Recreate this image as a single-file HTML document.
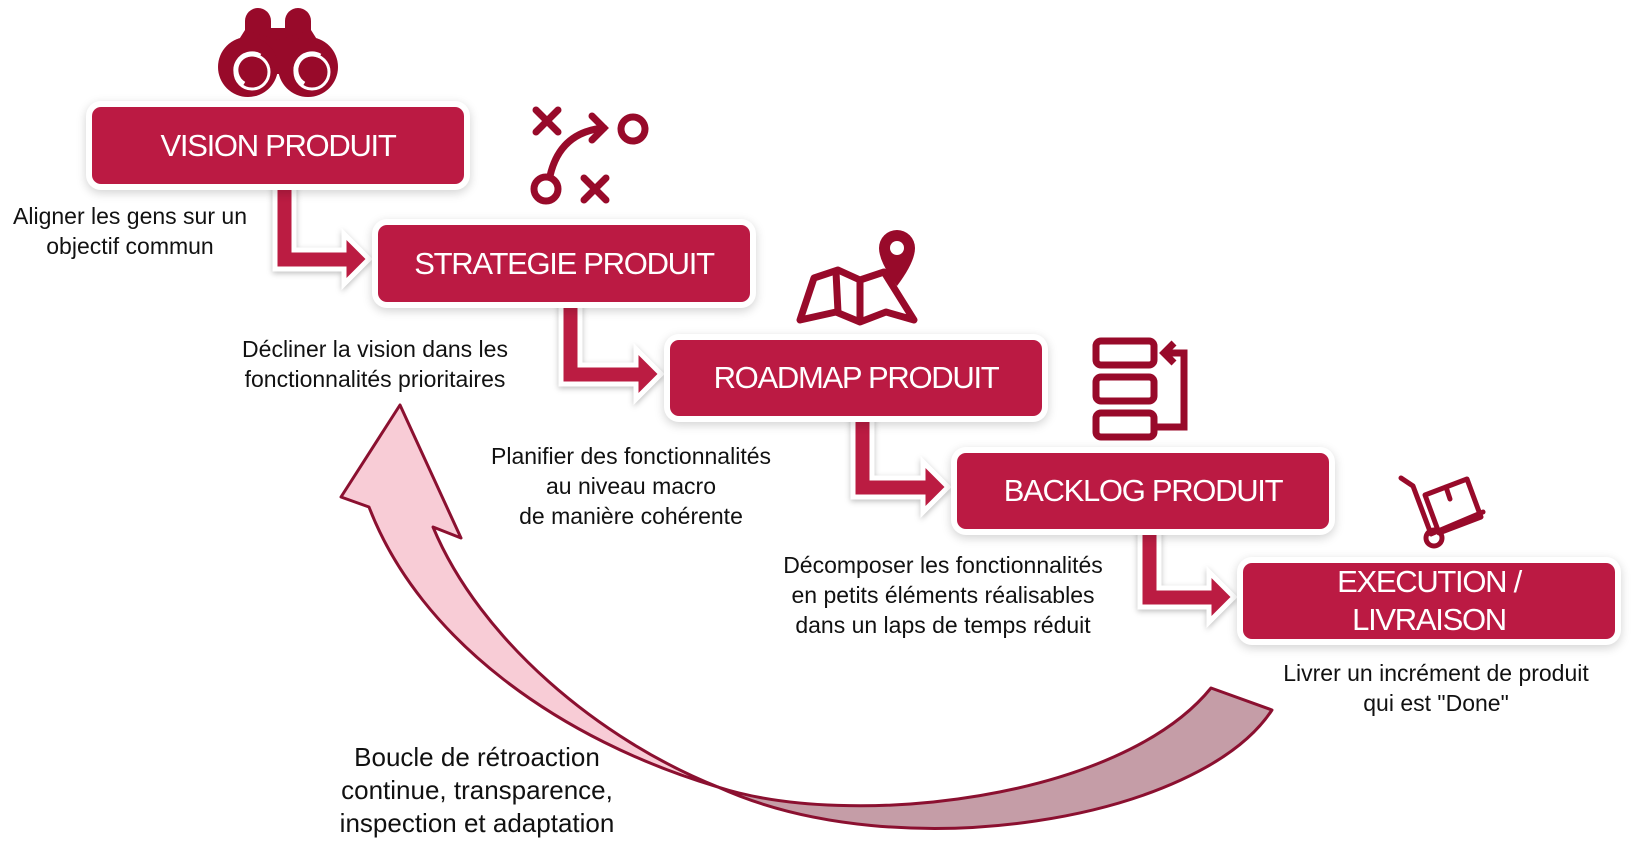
<!DOCTYPE html>
<html><head><meta charset="utf-8"><style>
body{margin:0;width:1634px;height:848px;background:#fff;position:relative;overflow:hidden;font-family:"Liberation Sans",sans-serif}
.box{position:absolute;background:#bb1a43;border-radius:9px;box-shadow:0 0 0 6px #fff,0 3px 10px 6px rgba(0,0,0,0.18);color:#fff;font-size:31px;letter-spacing:-1.3px;display:flex;align-items:center;justify-content:center;text-align:center;line-height:38px}
.t{position:absolute;color:#111;font-size:23px;text-align:center;line-height:30px;letter-spacing:0;transform:translateX(-50%);white-space:nowrap}
svg{position:absolute;left:0;top:0}
</style></head><body>
<svg width="1634" height="848" viewBox="0 0 1634 848">
<defs><filter id="sh"><feDropShadow dx="0" dy="2" stdDeviation="3" flood-opacity="0.25"/></filter></defs>
<path d="M718,787 C850,830 1120,800 1211,688 L1272,710 C1200,820 900,870 718,787 Z" fill="#c59da7" stroke="#8b1030" stroke-width="3" stroke-linejoin="round"/>
<path d="M369,507 L341,497 L400,405 L461,538 L433,527 C480,640 600,740 718,787 C560,740 420,640 369,507 Z" fill="#f8ccd6" stroke="#8b1030" stroke-width="3" stroke-linejoin="round"/>
<g fill="#bb1a43" stroke="#fff" stroke-width="5" filter="url(#sh)">
<polygon points="275,184 294,184 294,250 344,250 344,234 369,259 344,284 344,269 275,269"/>
<polygon points="561,302 580,302 580,365 636,365 636,349 661,374 636,399 636,384 561,384"/>
<polygon points="853,416 872,416 872,478 923,478 923,462 948,487 923,512 923,497 853,497"/>
<polygon points="1140,529 1159,529 1159,588 1209,588 1209,572 1234,597 1209,622 1209,607 1140,607"/>
</g>
<!-- binoculars -->
<g fill="#980a2a">
<rect x="245" y="8" width="26" height="40" rx="13"/>
<rect x="285" y="8" width="26" height="40" rx="13"/>
<rect x="265" y="28" width="26" height="22"/>
<path d="M245,30 L226,60 L248,96 L278,70 L278,40 Z"/>
<path d="M311,30 L330,60 L308,96 L278,70 L278,40 Z"/>
<circle cx="248" cy="67" r="30"/>
<circle cx="308" cy="67" r="30"/>
<rect x="268" y="60" width="20" height="14"/>
</g>
<g fill="none" stroke="#fff" stroke-width="5">
<path d="M244,84 a16,16 0 0 1 16,-28"/><path d="M304,84 a16,16 0 0 1 16,-28"/>
</g>
<g fill="none" stroke="#fff" stroke-width="3">
<circle cx="252" cy="72" r="17"/><circle cx="312" cy="72" r="17"/>
</g>
<!-- strategy -->
<g fill="none" stroke="#980a2a" stroke-width="7" stroke-linecap="round">
<path d="M536,110 l22,22 M558,110 l-22,22"/>
<path d="M584,178 l22,22 M606,178 l-22,22"/>
<circle cx="633" cy="129" r="12"/><circle cx="546" cy="189" r="12"/>
<path d="M550,176 Q560,132 604,128"/><path d="M592,116 l12,12 l-12,12"/>
</g>
<!-- map -->
<g fill="none" stroke="#980a2a" stroke-width="7" stroke-linejoin="round">
<path d="M800,320 L814,278 L838,270 L860,280 L884,272 L914,320 L886,312 L860,322 L836,312 Z"/>
<path d="M836,272 L838,312 M860,280 L860,320"/>
</g>
<path d="M897,230 a18,18 0 0 1 18,18 q0,14 -18,38 q-18,-24 -18,-38 a18,18 0 0 1 18,-18z" fill="#980a2a"/>
<circle cx="897" cy="248" r="7" fill="#fff"/>
<!-- backlog -->
<g fill="none" stroke="#980a2a" stroke-width="7">
<rect x="1096" y="341" width="58" height="24" rx="5"/>
<rect x="1096" y="377" width="58" height="24" rx="5"/>
<rect x="1096" y="413" width="58" height="24" rx="5"/>
<path d="M1156,427 h28 v-74 h-18"/><path d="M1174,343 l-10,10 l10,10"/>
</g>
<!-- trolley -->
<g fill="none" stroke="#980a2a" stroke-width="5" stroke-linecap="round" stroke-linejoin="round">
<path d="M1401,478 l12,8 l18,48 l52,-22"/>
<circle cx="1434" cy="538" r="8"/>
<path d="M1425,495 l42,-16 l14,38 l-42,16 z"/><path d="M1446,487 l4,12"/>
</g>
</svg>
<div class="box" style="left:92px;top:107px;width:372px;height:77px">VISION PRODUIT</div>
<div class="box" style="left:378px;top:225px;width:372px;height:77px">STRATEGIE PRODUIT</div>
<div class="box" style="left:670px;top:340px;width:372px;height:76px">ROADMAP PRODUIT</div>
<div class="box" style="left:957px;top:453px;width:372px;height:76px">BACKLOG PRODUIT</div>
<div class="box" style="left:1243px;top:563px;width:372px;height:76px">EXECUTION /<br>LIVRAISON</div>
<div class="t" style="left:130px;top:201px">Aligner les gens sur un<br>objectif commun</div>
<div class="t" style="left:375px;top:334px">Décliner la vision dans les<br>fonctionnalités prioritaires</div>
<div class="t" style="left:631px;top:441px">Planifier des fonctionnalités<br>au niveau macro<br>de manière cohérente</div>
<div class="t" style="left:943px;top:550px">Décomposer les fonctionnalités<br>en petits éléments réalisables<br>dans un laps de temps réduit</div>
<div class="t" style="left:1436px;top:658px">Livrer un incrément de produit<br>qui est "Done"</div>
<div class="t" style="left:477px;top:741px;font-size:26px;line-height:33px">Boucle de rétroaction<br>continue, transparence,<br>inspection et adaptation</div>
</body></html>
